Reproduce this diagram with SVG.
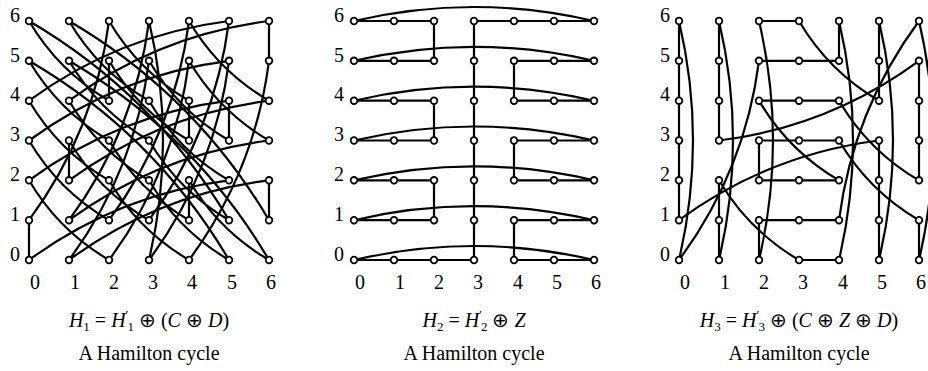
<svg xmlns="http://www.w3.org/2000/svg" width="928" height="371" viewBox="0 0 928 371">
<style>
text{font-family:"Liberation Serif","Times New Roman",serif;font-size:20px;fill:#000}
.lbl{text-anchor:middle}
.it{font-style:italic}
.e{fill:none;stroke:#000;stroke-width:2.2;stroke-linejoin:round}
.n{fill:#fff;stroke:#000;stroke-width:1.8}
</style>
<defs>
<circle id="v" r="3.3" class="n"/>
</defs>
<rect width="928" height="371" fill="#fff"/>
<g id="connectors">
<g id="p1edges">
<path class="e" d="M29,220.2 V260 M69,140.5 V180.3 M109,60.8 V100.7 M189,100.7 V140.5 M189,180.3 V220.2 M229,100.7 V140.5 M269,21 V60.8 M269,180.3 V220.2 M149,21 Q177,140.5 149,260"/>
<path class="e" d="M29,220.2 q65.9,-89.2 80,-199.2 M29,180.3 q29.6,50.3 80,79.7 M29,140.5 q29.6,50.3 80,79.7 M29,100.7 q29.6,50.3 80,79.7 M29,60.8 q29.6,50.3 80,79.7 M29,21 q29.6,50.3 80,79.7
M69,260 q65.9,-89.2 80,-199.2 M69,220.2 q65.9,-89.2 80,-199.2 M69,140.5 q29.6,50.3 80,79.7 M69,100.7 q29.6,50.3 80,79.7 M69,60.8 q29.6,50.3 80,79.7 M69,21 q29.6,50.3 80,79.7
M109,260 q65.9,-89.2 80,-199.2 M109,220.2 q65.9,-89.2 80,-199.2 M109,180.3 q29.6,50.3 80,79.7 M109,140.5 q29.6,50.3 80,79.7 M109,60.8 q29.6,50.3 80,79.7 M109,21 q29.6,50.3 80,79.7
M149,260 q65.9,-89.2 80,-199.2 M149,220.2 q65.9,-89.2 80,-199.2 M149,180.3 q29.6,50.3 80,79.7 M149,140.5 q29.6,50.3 80,79.7 M149,100.7 q29.6,50.3 80,79.7 M149,60.8 q29.6,50.3 80,79.7
M189,260 q65.9,-89.2 80,-199.2 M189,180.3 q29.6,50.3 80,79.7 M189,60.8 q29.6,50.3 80,79.7 M189,21 q29.6,50.3 80,79.7
M229,260 q-74.1,-125.6 -200,-199.2 M229,220.2 q-74.1,-125.6 -200,-199.2 M229,180.3 q-110.4,13.9 -200,79.7 M229,100.7 q-110.4,13.9 -200,79.7 M229,60.8 q-110.4,13.9 -200,79.7 M229,21 q-110.4,13.9 -200,79.7
M269,260 q-74.1,-125.6 -200,-199.2 M269,220.2 q-74.1,-125.6 -200,-199.2 M269,180.3 q-110.4,13.9 -200,79.7 M269,140.5 q-110.4,13.9 -200,79.7 M269,100.7 q-110.4,13.9 -200,79.7 M269,21 q-110.4,13.9 -200,79.7"/>
</g>
<g id="p2edges">
<path class="e" d="M354,21 H434 V60.8 H354 M594,60.8 H514 V100.7 H594 M354,100.7 H434 V140.5 H354 M594,140.5 H514 V180.3 H594 M354,180.3 H434 V220.2 H354 M594,220.2 H514 V260 H594 M354,260 H474 V21 H594"/>
<path class="e" d="M354,21 Q474,-7 594,21 M354,60.8 Q474,32.8 594,60.8 M354,100.7 Q474,72.7 594,100.7 M354,140.5 Q474,112.5 594,140.5 M354,180.3 Q474,152.3 594,180.3 M354,220.2 Q474,192.2 594,220.2 M354,260 Q474,232 594,260"/>
</g>
<g id="p3edges">
<path class="e" d="M679,21 V220.2 M719,21 V140.5 M719,180.3 V260 M759,140.5 V180.3 M759,220.2 V260 M839,21 V60.8 M879,21 V100.7 M879,140.5 V260 M919,60.8 V180.3 M919,220.2 V260"/>
<path class="e" d="M679,21 Q707,140.5 679,260 M719,21 Q747,140.5 719,260 M759,21 Q787,140.5 759,260 M839,21 Q867,140.5 839,260 M879,21 Q907,140.5 879,260 M919,21 Q947,140.5 919,260"/>
<path class="e" d="M759,21 H799 M759,60.8 H839 M759,100.7 H839 M759,140.5 H839 M759,180.3 H839 M759,220.2 H839 M799,260 H839"/>
<path class="e" d="M679,260 q65.9,-89.2 80,-199.2 M879,140.5 q-110.4,13.9 -200,79.7 M719,180.3 q29.6,50.3 80,79.7 M919,60.8 q-89.6,65.9 -200,79.7 M759,100.7 q29.6,50.3 80,79.7 M799,21 q29.6,50.3 80,79.7 M839,100.7 q29.6,50.3 80,79.7 M839,140.5 q29.6,50.3 80,79.7 M839,220.2 q14.1,-110 80,-199.2"/>
</g>
</g>
<g id="nodes">
<g id="panel1nodes">
<use id="a06" href="#v" x="29" y="21"/><use id="a16" href="#v" x="69" y="21"/><use id="a26" href="#v" x="109" y="21"/><use id="a36" href="#v" x="149" y="21"/><use id="a46" href="#v" x="189" y="21"/><use id="a56" href="#v" x="229" y="21"/><use id="a66" href="#v" x="269" y="21"/>
<use id="a05" href="#v" x="29" y="60.8"/><use id="a15" href="#v" x="69" y="60.8"/><use id="a25" href="#v" x="109" y="60.8"/><use id="a35" href="#v" x="149" y="60.8"/><use id="a45" href="#v" x="189" y="60.8"/><use id="a55" href="#v" x="229" y="60.8"/><use id="a65" href="#v" x="269" y="60.8"/>
<use id="a04" href="#v" x="29" y="100.7"/><use id="a14" href="#v" x="69" y="100.7"/><use id="a24" href="#v" x="109" y="100.7"/><use id="a34" href="#v" x="149" y="100.7"/><use id="a44" href="#v" x="189" y="100.7"/><use id="a54" href="#v" x="229" y="100.7"/><use id="a64" href="#v" x="269" y="100.7"/>
<use id="a03" href="#v" x="29" y="140.5"/><use id="a13" href="#v" x="69" y="140.5"/><use id="a23" href="#v" x="109" y="140.5"/><use id="a33" href="#v" x="149" y="140.5"/><use id="a43" href="#v" x="189" y="140.5"/><use id="a53" href="#v" x="229" y="140.5"/><use id="a63" href="#v" x="269" y="140.5"/>
<use id="a02" href="#v" x="29" y="180.3"/><use id="a12" href="#v" x="69" y="180.3"/><use id="a22" href="#v" x="109" y="180.3"/><use id="a32" href="#v" x="149" y="180.3"/><use id="a42" href="#v" x="189" y="180.3"/><use id="a52" href="#v" x="229" y="180.3"/><use id="a62" href="#v" x="269" y="180.3"/>
<use id="a01" href="#v" x="29" y="220.2"/><use id="a11" href="#v" x="69" y="220.2"/><use id="a21" href="#v" x="109" y="220.2"/><use id="a31" href="#v" x="149" y="220.2"/><use id="a41" href="#v" x="189" y="220.2"/><use id="a51" href="#v" x="229" y="220.2"/><use id="a61" href="#v" x="269" y="220.2"/>
<use id="a00" href="#v" x="29" y="260"/><use id="a10" href="#v" x="69" y="260"/><use id="a20" href="#v" x="109" y="260"/><use id="a30" href="#v" x="149" y="260"/><use id="a40" href="#v" x="189" y="260"/><use id="a50" href="#v" x="229" y="260"/><use id="a60" href="#v" x="269" y="260"/>
</g>
<g id="panel2nodes">
<use id="b06" href="#v" x="354" y="21"/><use id="b16" href="#v" x="394" y="21"/><use id="b26" href="#v" x="434" y="21"/><use id="b36" href="#v" x="474" y="21"/><use id="b46" href="#v" x="514" y="21"/><use id="b56" href="#v" x="554" y="21"/><use id="b66" href="#v" x="594" y="21"/>
<use id="b05" href="#v" x="354" y="60.8"/><use id="b15" href="#v" x="394" y="60.8"/><use id="b25" href="#v" x="434" y="60.8"/><use id="b35" href="#v" x="474" y="60.8"/><use id="b45" href="#v" x="514" y="60.8"/><use id="b55" href="#v" x="554" y="60.8"/><use id="b65" href="#v" x="594" y="60.8"/>
<use id="b04" href="#v" x="354" y="100.7"/><use id="b14" href="#v" x="394" y="100.7"/><use id="b24" href="#v" x="434" y="100.7"/><use id="b34" href="#v" x="474" y="100.7"/><use id="b44" href="#v" x="514" y="100.7"/><use id="b54" href="#v" x="554" y="100.7"/><use id="b64" href="#v" x="594" y="100.7"/>
<use id="b03" href="#v" x="354" y="140.5"/><use id="b13" href="#v" x="394" y="140.5"/><use id="b23" href="#v" x="434" y="140.5"/><use id="b33" href="#v" x="474" y="140.5"/><use id="b43" href="#v" x="514" y="140.5"/><use id="b53" href="#v" x="554" y="140.5"/><use id="b63" href="#v" x="594" y="140.5"/>
<use id="b02" href="#v" x="354" y="180.3"/><use id="b12" href="#v" x="394" y="180.3"/><use id="b22" href="#v" x="434" y="180.3"/><use id="b32" href="#v" x="474" y="180.3"/><use id="b42" href="#v" x="514" y="180.3"/><use id="b52" href="#v" x="554" y="180.3"/><use id="b62" href="#v" x="594" y="180.3"/>
<use id="b01" href="#v" x="354" y="220.2"/><use id="b11" href="#v" x="394" y="220.2"/><use id="b21" href="#v" x="434" y="220.2"/><use id="b31" href="#v" x="474" y="220.2"/><use id="b41" href="#v" x="514" y="220.2"/><use id="b51" href="#v" x="554" y="220.2"/><use id="b61" href="#v" x="594" y="220.2"/>
<use id="b00" href="#v" x="354" y="260"/><use id="b10" href="#v" x="394" y="260"/><use id="b20" href="#v" x="434" y="260"/><use id="b30" href="#v" x="474" y="260"/><use id="b40" href="#v" x="514" y="260"/><use id="b50" href="#v" x="554" y="260"/><use id="b60" href="#v" x="594" y="260"/>
</g>
<g id="panel3nodes">
<use id="c06" href="#v" x="679" y="21"/><use id="c16" href="#v" x="719" y="21"/><use id="c26" href="#v" x="759" y="21"/><use id="c36" href="#v" x="799" y="21"/><use id="c46" href="#v" x="839" y="21"/><use id="c56" href="#v" x="879" y="21"/><use id="c66" href="#v" x="919" y="21"/>
<use id="c05" href="#v" x="679" y="60.8"/><use id="c15" href="#v" x="719" y="60.8"/><use id="c25" href="#v" x="759" y="60.8"/><use id="c35" href="#v" x="799" y="60.8"/><use id="c45" href="#v" x="839" y="60.8"/><use id="c55" href="#v" x="879" y="60.8"/><use id="c65" href="#v" x="919" y="60.8"/>
<use id="c04" href="#v" x="679" y="100.7"/><use id="c14" href="#v" x="719" y="100.7"/><use id="c24" href="#v" x="759" y="100.7"/><use id="c34" href="#v" x="799" y="100.7"/><use id="c44" href="#v" x="839" y="100.7"/><use id="c54" href="#v" x="879" y="100.7"/><use id="c64" href="#v" x="919" y="100.7"/>
<use id="c03" href="#v" x="679" y="140.5"/><use id="c13" href="#v" x="719" y="140.5"/><use id="c23" href="#v" x="759" y="140.5"/><use id="c33" href="#v" x="799" y="140.5"/><use id="c43" href="#v" x="839" y="140.5"/><use id="c53" href="#v" x="879" y="140.5"/><use id="c63" href="#v" x="919" y="140.5"/>
<use id="c02" href="#v" x="679" y="180.3"/><use id="c12" href="#v" x="719" y="180.3"/><use id="c22" href="#v" x="759" y="180.3"/><use id="c32" href="#v" x="799" y="180.3"/><use id="c42" href="#v" x="839" y="180.3"/><use id="c52" href="#v" x="879" y="180.3"/><use id="c62" href="#v" x="919" y="180.3"/>
<use id="c01" href="#v" x="679" y="220.2"/><use id="c11" href="#v" x="719" y="220.2"/><use id="c21" href="#v" x="759" y="220.2"/><use id="c31" href="#v" x="799" y="220.2"/><use id="c41" href="#v" x="839" y="220.2"/><use id="c51" href="#v" x="879" y="220.2"/><use id="c61" href="#v" x="919" y="220.2"/>
<use id="c00" href="#v" x="679" y="260"/><use id="c10" href="#v" x="719" y="260"/><use id="c20" href="#v" x="759" y="260"/><use id="c30" href="#v" x="799" y="260"/><use id="c40" href="#v" x="839" y="260"/><use id="c50" href="#v" x="879" y="260"/><use id="c60" href="#v" x="919" y="260"/>
</g>
</g>
<g id="labels">
<g class="lbl">
<text x="15" y="22">6</text><text x="15" y="62">5</text><text x="15" y="101">4</text><text x="15" y="141">3</text><text x="15" y="181">2</text><text x="15" y="221">1</text><text x="15" y="261">0</text>
<text x="339" y="22">6</text><text x="339" y="62">5</text><text x="339" y="101">4</text><text x="339" y="141">3</text><text x="339" y="181">2</text><text x="339" y="221">1</text><text x="339" y="261">0</text>
<text x="665" y="22">6</text><text x="665" y="62">5</text><text x="665" y="101">4</text><text x="665" y="141">3</text><text x="665" y="181">2</text><text x="665" y="221">1</text><text x="665" y="261">0</text>
<text x="35" y="289">0</text><text x="75" y="289">1</text><text x="114" y="289">2</text><text x="153" y="289">3</text><text x="192" y="289">4</text><text x="232" y="289">5</text><text x="271" y="289">6</text>
<text x="360" y="289">0</text><text x="400" y="289">1</text><text x="439" y="289">2</text><text x="478" y="289">3</text><text x="518" y="289">4</text><text x="557" y="289">5</text><text x="596" y="289">6</text>
<text x="685" y="289">0</text><text x="725" y="289">1</text><text x="764" y="289">2</text><text x="803" y="289">3</text><text x="843" y="289">4</text><text x="882" y="289">5</text><text x="921" y="289">6</text>
<text x="149" y="327"><tspan class="it">H</tspan><tspan font-size="13" dy="4">1</tspan><tspan dy="-4"> = </tspan><tspan class="it">H</tspan><tspan font-size="13" dy="-8">′</tspan><tspan font-size="13" dx="-1" dy="12">1</tspan><tspan dy="-4"> ⊕ (</tspan><tspan class="it">C</tspan><tspan> ⊕ </tspan><tspan class="it">D</tspan><tspan>)</tspan></text>
<text x="474" y="327"><tspan class="it">H</tspan><tspan font-size="13" dy="4">2</tspan><tspan dy="-4"> = </tspan><tspan class="it">H</tspan><tspan font-size="13" dy="-8">′</tspan><tspan font-size="13" dx="-1" dy="12">2</tspan><tspan dy="-4"> ⊕ </tspan><tspan class="it">Z</tspan></text>
<text x="799" y="327"><tspan class="it">H</tspan><tspan font-size="13" dy="4">3</tspan><tspan dy="-4"> = </tspan><tspan class="it">H</tspan><tspan font-size="13" dy="-8">′</tspan><tspan font-size="13" dx="-1" dy="12">3</tspan><tspan dy="-4"> ⊕ (</tspan><tspan class="it">C</tspan><tspan> ⊕ </tspan><tspan class="it">Z</tspan><tspan> ⊕ </tspan><tspan class="it">D</tspan><tspan>)</tspan></text>
<text x="149" y="360">A Hamilton cycle</text>
<text x="474" y="360">A Hamilton cycle</text>
<text x="799" y="360">A Hamilton cycle</text>
</g>
</g>
</svg>
